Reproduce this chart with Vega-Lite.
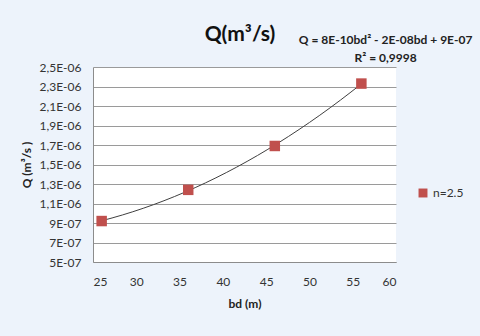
{
  "$schema": "https://vega.github.io/schema/vega-lite/v6.json",
  "autosize": "none",
  "width": 303,
  "height": 195,
  "padding": {"left": 93, "top": 67, "right": 84, "bottom": 74},
  "background": "#edf3fb",
  "config": {
    "font": "Lato",
    "view": {"fill": "white", "stroke": null},
    "axis": {"labelFont": "Lato", "titleFont": "Lato", "labelColor": "#333", "titleColor": "#222"}
  },
  "data": {
    "values": [
      {"bd": 26, "Q": 9.2e-7, "series": "n=2.5"},
      {"bd": 36, "Q": 1.24e-6, "series": "n=2.5"},
      {"bd": 46, "Q": 1.69e-6, "series": "n=2.5"},
      {"bd": 56, "Q": 2.33e-6, "series": "n=2.5"}
    ]
  },
  "layer": [
    {
      "transform": [{"regression": "Q", "on": "bd", "method": "poly", "order": 2}],
      "mark": {"type": "line", "color": "#404040", "strokeWidth": 1, "interpolate": "monotone"},
      "encoding": {
        "x": {"field": "bd", "type": "quantitative"},
        "y": {"field": "Q", "type": "quantitative"}
      }
    },
    {
      "mark": {"type": "square", "size": 110, "opacity": 1, "filled": true},
      "encoding": {
        "x": {
          "field": "bd", "type": "quantitative",
          "scale": {"domain": [25, 60], "nice": false},
          "axis": {
            "values": [25, 30, 35, 40, 45, 50, 55, 60], "tickCount": 50, "format": "d",
            "grid": false, "ticks": false, "domainColor": "#8c8c8c",
            "labelFontSize": 12, "labelPadding": 14, "labelOverlap": false,
            "title": "bd (m)", "titleFontSize": 12, "titleFontWeight": "bold", "titlePadding": 11
          }
        },
        "y": {
          "field": "Q", "type": "quantitative",
          "scale": {"domain": [5e-7, 2.5e-6], "nice": false, "zero": false},
          "axis": {
            "values": [5e-7, 7e-7, 9e-7, 1.1e-6, 1.3e-6, 1.5e-6, 1.7e-6, 1.9e-6, 2.1e-6, 2.3e-6, 2.5e-6],
            "tickCount": 50,
            "labelExpr": "replace(replace(replace(format(datum.value,'.1e'),'.',','),'e-','E-0'),',0E','E')",
            "grid": true, "gridColor": "#9a9a9a", "ticks": false, "domainColor": "#8c8c8c",
            "labelFontSize": 12, "labelPadding": 12, "labelOverlap": false,
            "title": "Q (m³/s )", "titleFontSize": 12, "titleFontWeight": "bold", "titlePadding": 6
          }
        },
        "color": {
          "field": "series", "type": "nominal",
          "scale": {"range": ["#c0504d"]},
          "legend": {
            "title": null, "orient": "none", "legendX": 324, "legendY": 120,
            "symbolType": "square", "symbolSize": 80, "labelFontSize": 12, "labelColor": "#333",
            "symbolOpacity": 1
          }
        }
      }
    },
    {
      "data": {"values": [
        {"bd": 58.8, "Q": 2.775e-6, "label": "Q = 8E-10bd² - 2E-08bd + 9E-07"},
        {"bd": 58.8, "Q": 2.59e-6, "label": "R² = 0,9998"}
      ]},
      "mark": {"type": "text", "fontSize": 12, "fontWeight": "bold", "color": "#222", "font": "Lato"},
      "encoding": {
        "x": {"field": "bd", "type": "quantitative"},
        "y": {"field": "Q", "type": "quantitative"},
        "text": {"field": "label"}
      }
    },
    {
      "data": {"values": [
        {"bd": 41.98, "Q": 2.83e-6, "label": "Q(m³/s)"}
      ]},
      "mark": {"type": "text", "fontSize": 21, "fontWeight": "bold", "color": "#111", "font": "Lato", "baseline": "middle"},
      "encoding": {
        "x": {"field": "bd", "type": "quantitative"},
        "y": {"field": "Q", "type": "quantitative"},
        "text": {"field": "label"}
      }
    }
  ]
}
